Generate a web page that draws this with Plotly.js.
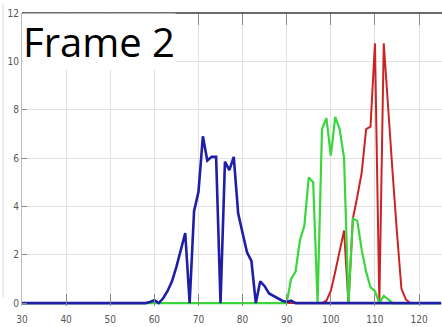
<!DOCTYPE html>
<html><head><meta charset="utf-8">
<script src="https://cdn.plot.ly/plotly-3.0.1.min.js"></script>
<style>html,body{margin:0;padding:0;background:#fff;}#chart{width:442px;height:327px;}</style>
</head><body><div id="chart"></div>
<script>
// x sample positions (shared by all series)
const xStart = 30, xEnd = 125;
const xVals = [];
for (let v = xStart; v <= xEnd; v++) xVals.push(v);

// non-zero readings per series (all other samples are 0)
const blueX = [59,60,61,62,63,64,65,66,67,68,69,70,71,72,73,74,75,76,77,78,79,80,81,82,83,84,85,86,87,88,89,90,91,92];
const blueY = [0.05,0.12,0,0.2,0.5,0.9,1.5,2.2,2.9,0,3.8,4.6,6.9,5.9,6.05,6.05,0,5.85,5.5,6.05,3.7,2.9,2.1,1.75,0,0.9,0.7,0.4,0.3,0.2,0.1,0.05,0.1,0];
const greenX = [90,91,92,93,94,95,96,97,98,99,100,101,102,103,104,105,106,107,108,109,110,111,112,113,114];
const greenY = [0,1.0,1.3,2.6,3.2,5.2,5.0,0,7.2,7.65,6.1,7.7,7.2,6.0,0,3.5,3.4,2.2,1.3,0.65,0.5,0,0.3,0.15,0];
const redX = [98,99,100,101,102,103,104,105,106,107,108,109,110,111,112,113,114,115,116,117,118];
const redY = [0,0.1,0.5,1.3,2.2,3.0,0,3.5,4.4,5.4,7.2,7.3,10.75,0,10.75,7.9,5.4,2.9,0.6,0.15,0];

const xTicks = [30,40,50,60,70,80,90,100,110,120];
const yTicks = [0,2,4,6,8,10,12];
const titleText = "Frame 2";

function fullSeries(px, py) {
  const m = {};
  px.forEach((x, i) => { m[x] = py[i]; });
  return xVals.map(x => (m[x] !== undefined ? m[x] : 0));
}

const traces = [
  {x: xVals, y: fullSeries(redX, redY), mode: 'lines', line: {color: '#cc2424', width: 2}, hoverinfo: 'skip'},
  {x: xVals, y: fullSeries(greenX, greenY), mode: 'lines', line: {color: '#3ad63a', width: 2.2}, hoverinfo: 'skip'},
  {x: xVals, y: fullSeries(blueX, blueY), mode: 'lines', line: {color: '#1e1ea6', width: 2.6}, hoverinfo: 'skip'}
];

const tickFont = {family: 'Liberation Sans Narrow, DejaVu Sans Condensed, sans-serif', size: 10, color: '#555'};

const layout = {
  width: 442, height: 327,
  margin: {l: 22, r: 0, t: 13, b: 21, pad: 0},
  paper_bgcolor: '#fff', plot_bgcolor: '#fff',
  showlegend: false,
  xaxis: {
    range: [30, 125.2], tickvals: xTicks, ticktext: xTicks.map(String),
    ticks: 'inside', ticklen: 12, tickcolor: '#888', tickwidth: 1,
    mirror: 'ticks', showline: false,
    showgrid: true, gridcolor: '#e2e2e2', gridwidth: 1, zeroline: false,
    tickfont: tickFont, ticklabelstandoff: 6
  },
  yaxis: {
    range: [-0.12, 12], tickvals: yTicks, ticktext: yTicks.map(String),
    ticks: 'inside', ticklen: 5, tickcolor: '#888',
    showline: true, linecolor: '#bdbdbd', linewidth: 1,
    showgrid: true, gridcolor: '#e2e2e2', gridwidth: 1, zeroline: false,
    tickfont: tickFont
  },
  shapes: [
    {type: 'line', xref: 'paper', yref: 'paper', x0: 0, x1: 1, y0: 1, y1: 1, line: {color: '#3a3a3a', width: 1.5}},
    {type: 'line', xref: 'paper', yref: 'paper', x0: -0.045, x1: -0.045, y0: 0.03, y1: 1.03, line: {color: '#d8d8d8', width: 1}}
  ],
  annotations: [{
    text: titleText, xref: 'paper', yref: 'paper', x: 0, y: 1.0,
    xanchor: 'left', yanchor: 'top', showarrow: false,
    font: {family: 'Open Sans, Lato, sans-serif', size: 40, color: '#000'},
    bgcolor: '#fff', borderpad: 0
  }]
};

Plotly.newPlot('chart', traces, layout, {staticPlot: true, displayModeBar: false});
</script></body></html>
